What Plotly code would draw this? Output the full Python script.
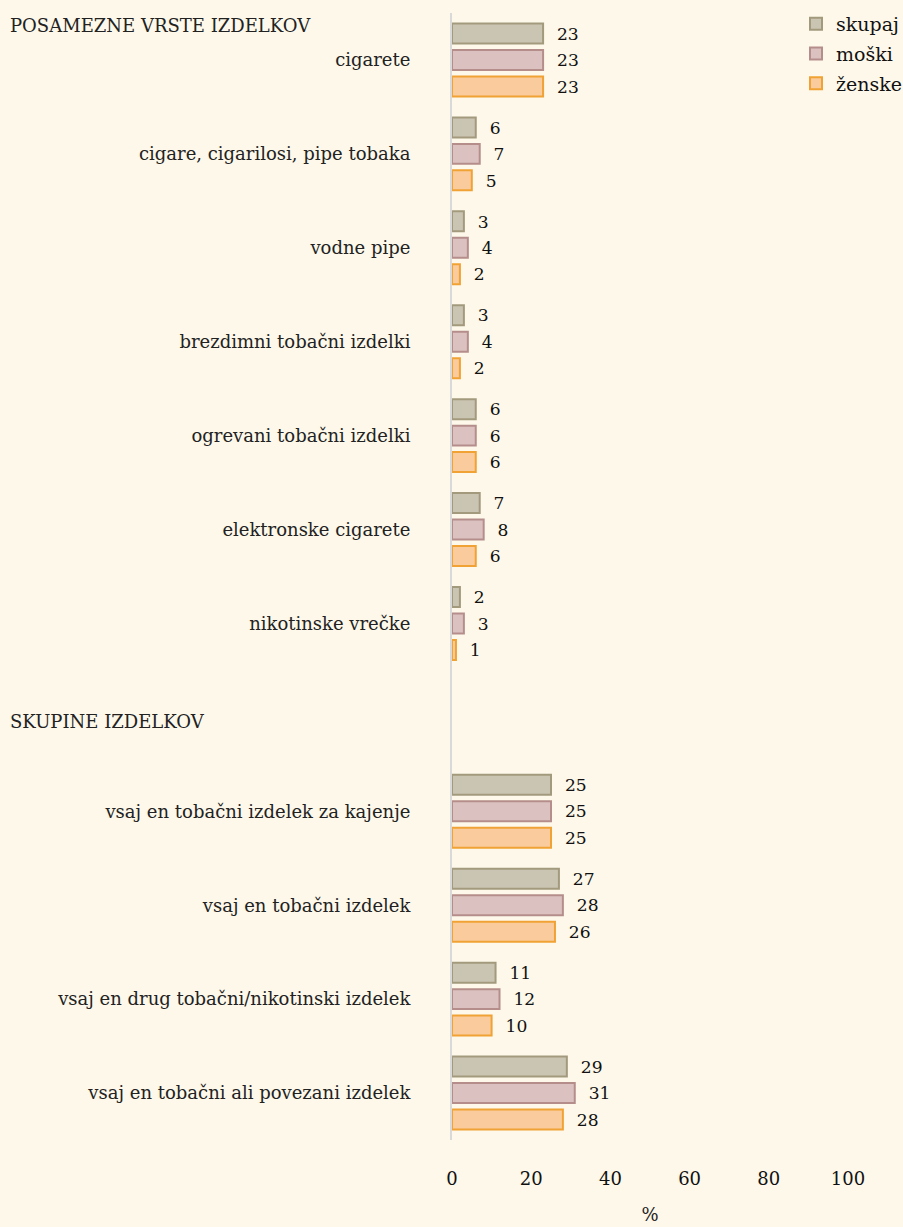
import plotly.graph_objects as go

# categories (blank slot separates the two sections)
categories = [
    "cigarete",
    "cigare, cigarilosi, pipe tobaka",
    "vodne pipe",
    "brezdimni tobačni izdelki",
    "ogrevani tobačni izdelki",
    "elektronske cigarete",
    "nikotinske vrečke",
    " ",
    "vsaj en tobačni izdelek za kajenje",
    "vsaj en tobačni izdelek",
    "vsaj en drug tobačni/nikotinski izdelek",
    "vsaj en tobačni ali povezani izdelek",
]

skupaj = [23, 6, 3, 3, 6, 7, 2, None, 25, 27, 11, 29]
moski = [23, 7, 4, 4, 6, 8, 3, None, 25, 28, 12, 31]
zenske = [23, 5, 2, 2, 6, 6, 1, None, 25, 26, 10, 28]

x_ticks = [0, 20, 40, 60, 80, 100]

FONT = "DejaVu Serif"
FS = 18
BG = "#FDF8EA"

series = [
    ("skupaj", skupaj, "#CAC4B3", "#A39A7D"),
    ("moški", moski, "#DBC2C1", "#B58E8B"),
    ("ženske", zenske, "#F9CB9D", "#F1A234"),
]

fig = go.Figure()
for name, vals, fill, border in series:
    fig.add_trace(go.Bar(
        y=categories, x=vals, orientation="h", name=name, legendgroup=name,
        marker=dict(color=fill, line=dict(color=border, width=2)),
        text=["\u00a0\u00a0" + str(v) if v is not None else "" for v in vals],
        textposition="outside", cliponaxis=False,
        textfont=dict(family=FONT, size=FS, color="#111111"),
    ))

fig.add_annotation(text="POSAMEZNE VRSTE IZDELKOV", xref="paper", yref="paper",
                   x=(8 - 452) / 396, y=1 + (13 - 25) / 1127,
                   xanchor="left", yanchor="middle", showarrow=False,
                   font=dict(family=FONT, size=FS, color="#222222"))
fig.add_annotation(text="SKUPINE IZDELKOV", xref="paper", yref="y",
                   x=(8 - 452) / 396, y=" ",
                   xanchor="left", yanchor="middle", yshift=-4, showarrow=False,
                   font=dict(family=FONT, size=FS, color="#222222"))

fig.update_layout(
    width=903, height=1227,
    barmode="group", bargap=0.154, bargroupgap=0.245,
    paper_bgcolor=BG, plot_bgcolor=BG,
    margin=dict(l=452, r=55, t=13, b=87, autoexpand=False),
    font=dict(family=FONT, size=FS, color="#222222"),
    legend=dict(x=(796 - 452) / 396, xanchor="left", y=1 + 8 / 1127, yanchor="top",
                font=dict(family=FONT, size=19, color="#111111"),
                itemwidth=30, traceorder="grouped", tracegroupgap=2,
                bgcolor="rgba(0,0,0,0)"),
    showlegend=True,
)
fig.update_xaxes(range=[0, 100], tickvals=x_ticks, showgrid=False, zeroline=False,
                 showline=False, ticks="", ticklabelstandoff=26,
                 tickfont=dict(family=FONT, size=FS, color="#111111"),
                 title=dict(text="%", standoff=20, font=dict(family=FONT, size=FS)),
                 automargin=False, fixedrange=True)
fig.update_yaxes(autorange="reversed", showgrid=False, zeroline=False,
                 showline=True, linecolor="#D9D9D9", linewidth=2, ticks="",
                 ticklabelstandoff=36,
                 tickfont=dict(family=FONT, size=FS, color="#222222"),
                 automargin=False, fixedrange=True)

fig.write_html("out.html", config={"displayModeBar": False},
               post_script="document.body.style.margin='0';")
